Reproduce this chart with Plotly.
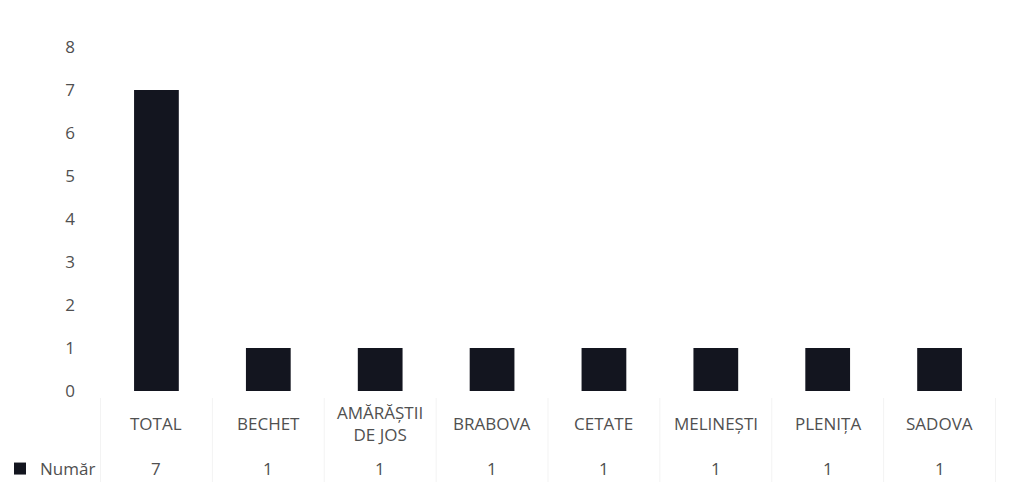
import plotly.graph_objects as go

categories = ["TOTAL", "BECHET", "AMĂRĂȘTII DE JOS", "BRABOVA", "CETATE", "MELINEȘTI", "PLENIȚA", "SADOVA"]
category_labels = ["TOTAL", "BECHET", "AMĂRĂȘTII<br>DE JOS", "BRABOVA", "CETATE", "MELINEȘTI", "PLENIȚA", "SADOVA"]
values = [7, 1, 1, 1, 1, 1, 1, 1]
series_name = "Număr"
y_ticks = [0, 1, 2, 3, 4, 5, 6, 7, 8]

BAR = "#13151f"
TXT = "#505050"
FONT = "Open Sans"

plot_top, plot_bottom = 47, 391
H = 482


def py(pixel_y):
    """pixel row -> paper coordinate"""
    return (plot_bottom - pixel_y) / (plot_bottom - plot_top)


fig = go.Figure()
fig.add_trace(go.Bar(
    x=categories, y=values, name=series_name,
    marker=dict(color=BAR, line=dict(width=0)),
    width=0.4,
))

# category labels of the data table (vertically centred, Excel-style)
for cat, lab in zip(categories, category_labels):
    fig.add_annotation(x=cat, xref="x", y=py(423), yref="paper", text=lab,
                       showarrow=False, yanchor="middle", xanchor="center",
                       font=dict(family=FONT, size=17, color=TXT))
# value row of the data table
for cat, v in zip(categories, values):
    fig.add_annotation(x=cat, xref="x", y=py(468), yref="paper", text=str(v),
                       showarrow=False, yanchor="middle", xanchor="center",
                       font=dict(family=FONT, size=17, color=TXT))

# faint data-table borders
for i in range(len(categories) + 1):
    fig.add_shape(type="line", xref="x", yref="paper",
                  x0=i - 0.5, x1=i - 0.5, y0=py(398), y1=py(H),
                  line=dict(color="#f3f3f3", width=1), layer="below")

fig.update_layout(
    width=1019, height=H,
    margin=dict(l=100, r=23, t=plot_top, b=H - plot_bottom),
    paper_bgcolor="white", plot_bgcolor="white",
    font=dict(family=FONT, size=17, color=TXT),
    showlegend=True,
    legend=dict(xref="container", yref="container", x=0.0, y=(H - 469) / H,
                xanchor="left", yanchor="middle", orientation="h",
                font=dict(family=FONT, size=17, color=TXT),
                itemwidth=30, bgcolor="rgba(0,0,0,0)"),
)
fig.update_xaxes(showticklabels=False, showgrid=False, zeroline=False,
                 showline=False, ticks="")
fig.update_yaxes(range=[0, 8], tickvals=y_ticks, showgrid=False,
                 zeroline=False, showline=False, ticks="",
                 ticklabelstandoff=24,
                 tickfont=dict(family=FONT, size=17, color=TXT))

fig.write_html("out.html", config={"displayModeBar": False},
               post_script="document.body.style.margin='0';document.body.style.overflow='hidden';")
